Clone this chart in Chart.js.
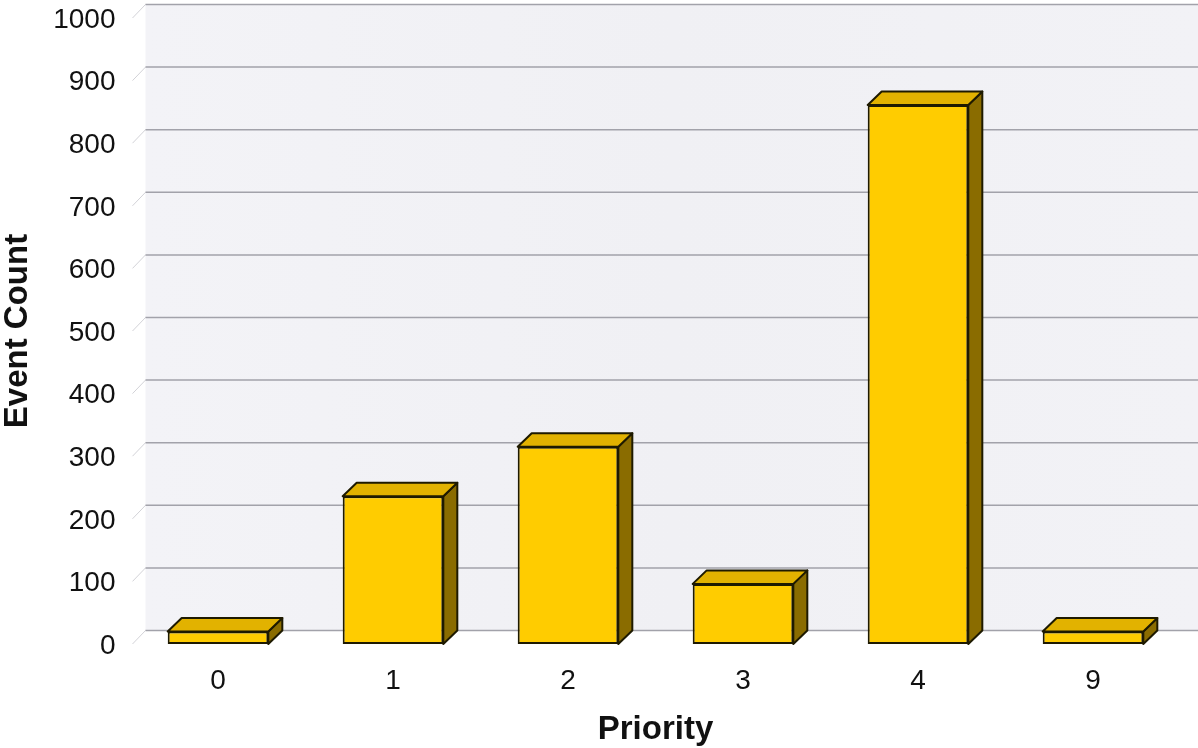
<!DOCTYPE html>
<html>
<head>
<meta charset="utf-8">
<style>
  html, body { margin: 0; padding: 0; background: #ffffff; }
  #wrap { width: 1198px; height: 748px; position: relative; }
</style>
<script src="https://cdn.jsdelivr.net/npm/chart.js@4.4.1/dist/chart.umd.min.js"></script>
</head>
<body>
<div id="wrap"><canvas id="chart" width="1198" height="748"></canvas></div>
<script>
// Event counts per priority level
const categories = ['0', '1', '2', '3', '4', '9'];
const eventCounts = [20, 236, 315, 96, 861, 20];
const yMin = 0;
const yMax = 1000;
const yStep = 100;

// depth of the 3D extrusion in pixels
const DEPTH_X = 14;
const DEPTH_Y = 13.5;

const FRONT = '#FFCC00';
const TOP = '#E2B200';
const SIDE = '#8A6C00';
const EDGE = '#1E1A00';
const FONT = 'Liberation Sans, Arial, sans-serif';

// Back wall + gridlines drawn behind the bars
const wallPlugin = {
  id: 'wall3d',
  beforeDatasetsDraw(chart) {
    const { ctx, chartArea, scales } = chart;
    const y = scales.y;
    const x0 = chartArea.left + DEPTH_X + 1;
    const x1 = chart.width;
    const yt = y.getPixelForValue(yMax) - DEPTH_Y;
    const yb = y.getPixelForValue(yMin) - DEPTH_Y;
    ctx.save();
    const g = ctx.createLinearGradient(x0, 0, x1, 0);
    g.addColorStop(0, '#F3F3F7');
    g.addColorStop(0.5, '#F0F0F4');
    g.addColorStop(1, '#F2F2F6');
    ctx.fillStyle = g;
    ctx.fillRect(x0, yt, x1 - x0, yb - yt);
    for (let v = yMin; v <= yMax; v += yStep) {
      const py = y.getPixelForValue(v);
      // slanted connector from front axis to back wall
      ctx.strokeStyle = '#D2D2D7';
      ctx.lineWidth = 1;
      ctx.beginPath();
      ctx.moveTo(chartArea.left + 2, py);
      ctx.lineTo(x0, py - DEPTH_Y);
      ctx.stroke();
      // gridline on the back wall
      ctx.strokeStyle = '#A2A2AA';
      ctx.lineWidth = 1.5;
      ctx.beginPath();
      ctx.moveTo(x0, py - DEPTH_Y);
      ctx.lineTo(x1, py - DEPTH_Y);
      ctx.stroke();
    }
    ctx.restore();
  }
};

// Top and side faces for each bar
const bar3dPlugin = {
  id: 'bar3d',
  afterDatasetsDraw(chart) {
    const { ctx } = chart;
    const meta = chart.getDatasetMeta(0);
    ctx.save();
    ctx.lineJoin = 'round';
    ctx.lineWidth = 2;
    ctx.strokeStyle = EDGE;
    meta.data.forEach((bar) => {
      const p = bar.getProps(['x', 'y', 'base', 'width'], true);
      const xl = p.x - p.width / 2;
      const xr = p.x + p.width / 2;
      const yt = p.y;
      const yb = p.base;
      // side face
      ctx.fillStyle = SIDE;
      ctx.beginPath();
      ctx.moveTo(xr, yt);
      ctx.lineTo(xr + DEPTH_X, yt - DEPTH_Y);
      ctx.lineTo(xr + DEPTH_X, yb - DEPTH_Y);
      ctx.lineTo(xr, yb);
      ctx.closePath();
      ctx.fill();
      ctx.stroke();
      // top face
      ctx.fillStyle = TOP;
      ctx.beginPath();
      ctx.moveTo(xl, yt);
      ctx.lineTo(xl + DEPTH_X, yt - DEPTH_Y);
      ctx.lineTo(xr + DEPTH_X, yt - DEPTH_Y);
      ctx.lineTo(xr, yt);
      ctx.closePath();
      ctx.fill();
      ctx.stroke();
    });
    ctx.restore();
  }
};

new Chart(document.getElementById('chart'), {
  type: 'bar',
  data: {
    labels: categories,
    datasets: [{
      data: eventCounts,
      backgroundColor: FRONT,
      borderColor: EDGE,
      borderWidth: 2,
      borderSkipped: false,
      categoryPercentage: 1,
      barPercentage: 0.575
    }]
  },
  options: {
    responsive: false,
    animation: false,
    devicePixelRatio: 1,
    layout: { padding: { top: 18, right: 17.5, left: 0, bottom: 0 } },
    plugins: {
      legend: { display: false },
      tooltip: { enabled: false }
    },
    scales: {
      x: {
        grid: { display: false, drawTicks: false },
        border: { display: false },
        ticks: {
          color: '#111111',
          padding: 20,
          font: { family: FONT, size: 28 }
        },
        title: {
          display: true,
          text: 'Priority',
          color: '#111111',
          padding: { top: 0, bottom: 0 },
          font: { family: FONT, size: 33, weight: 'bold', lineHeight: 1.1 }
        },
        afterFit(scale) {
          scale.height = 104;
          scale.paddingLeft = 0;
          scale.paddingRight = 0;
        }
      },
      y: {
        min: yMin,
        max: yMax,
        grid: { display: false, drawTicks: false },
        border: { display: false },
        ticks: {
          stepSize: yStep,
          color: '#111111',
          padding: 15,
          labelOffset: 2,
          font: { family: FONT, size: 28 },
          callback: (v) => String(v)
        },
        title: {
          display: true,
          text: 'Event Count',
          color: '#111111',
          padding: { top: 0, bottom: 0 },
          font: { family: FONT, size: 33, weight: 'bold', lineHeight: 1.1 }
        },
        afterFit(scale) {
          scale.width = 130.5;
          scale.paddingTop = 0;
          scale.paddingBottom = 0;
        }
      }
    }
  },
  plugins: [wallPlugin, bar3dPlugin]
});
</script>
</body>
</html>
